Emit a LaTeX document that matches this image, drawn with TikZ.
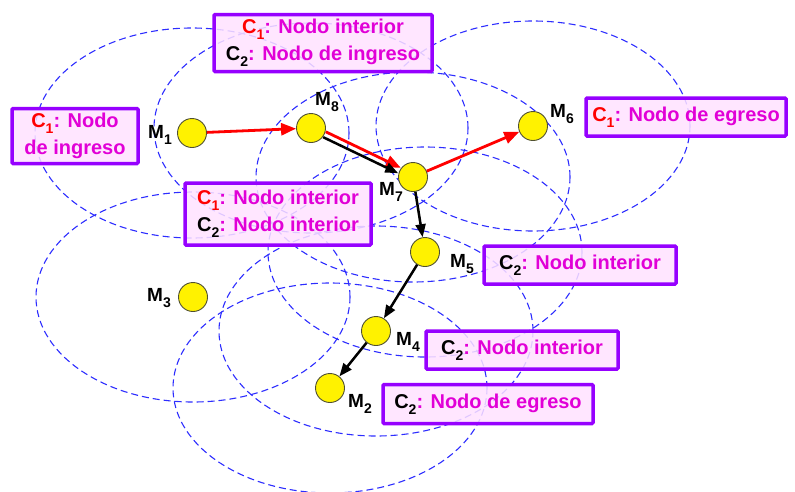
\documentclass[tikz,border=0pt]{standalone}
\usepackage{fontspec}
\setmainfont{Liberation Sans}
\usepackage{xcolor}
\usepackage{tikz}
\usetikzlibrary{positioning,arrows.meta,backgrounds}

\definecolor{rangeblue}{RGB}{45,45,255}
\definecolor{boxedge}{RGB}{150,0,255}
\definecolor{boxfill}{RGB}{255,226,255}
\definecolor{roletext}{RGB}{225,0,215}
\definecolor{routered}{RGB}{255,0,0}
\definecolor{moteedge}{RGB}{80,80,50}

\newcommand{\lowidx}[1]{\raisebox{-6pt}{\fontsize{14}{14}\selectfont #1}}
\newcommand{\cred}[1]{\textcolor{routered}{C\lowidx{#1}}}
\newcommand{\cblk}[1]{\textcolor{black}{C\lowidx{#1}}}

\begin{document}
\begin{tikzpicture}[
  x=1pt, y=-1pt,
  font=\bfseries\fontsize{20}{27}\selectfont,
  mote/.style={circle, draw=moteedge, line width=0.9pt, fill=yellow, minimum size=29pt, inner sep=0pt},
  mlab/.style={font=\bfseries\fontsize{19}{19}\selectfont, inner sep=0pt},
  role/.style={draw=boxedge, line width=3.5pt, fill=boxfill, fill opacity=0.85, text opacity=1, text=roletext, align=center, inner sep=0pt, rounded corners=1pt},
  rangezone/.style={rangeblue, line width=1.1pt, dash pattern=on 7pt off 4pt},
  redarr/.style={routered, line width=2.8pt, -{Triangle[length=15pt,width=12pt]}},
  blkarr/.style={black, line width=2.5pt, -{Triangle[length=13pt,width=10pt]}}
]
\useasboundingbox (0,0) rectangle (795,491);
\node[mote] (m1) at (192,133) {};
\node[mote] (m8) at (311,128) {};
\node[mote] (m7) at (413,177) {};
\node[mote] (m6) at (533,126) {};
\node[mote] (m5) at (425,252) {};
\node[mote] (m3) at (193,297) {};
\node[mote] (m4) at (376,331) {};
\node[mote] (m2) at (330,388) {};
\node[mlab] (t1) at (160,135) {M\lowidx{1}};
\node[mlab] (t8) at (327,102) {M\lowidx{8}};
\node[mlab] (t7) at (391,192) {M\lowidx{7}};
\node[mlab] (t6) at (562,114) {M\lowidx{6}};
\node[mlab] (t5) at (462,264) {M\lowidx{5}};
\node[mlab] (t3) at (159,298) {M\lowidx{3}};
\node[mlab] (t4) at (408,342) {M\lowidx{4}};
\node[mlab] (t2) at (360,404) {M\lowidx{2}};
\begin{scope}[on background layer]
\foreach \m in {m1,m2,m3,m4,m5,m6,m7,m8}
  \draw[rangezone] (\m.center) ellipse [x radius=157pt, y radius=105pt];
\end{scope}
\node[role, minimum width=126pt, minimum height=55pt] (b1) at (75,136) {\cred{1}: Nodo\\de ingreso};
\node[role, minimum width=218pt, minimum height=57pt] (b8) at (323,43) {\cred{1}: Nodo interior\\\cblk{2}: Nodo de ingreso};
\node[role, minimum width=186pt, minimum height=62pt] (b7) at (278,214) {\cred{1}: Nodo interior\\\cblk{2}: Nodo interior};
\node[role, minimum width=200pt, minimum height=38pt] (b6) at (686,117) {\cred{1}: Nodo de egreso};
\node[role, minimum width=192pt, minimum height=38pt] (b5) at (580,265) {\cblk{2}: Nodo interior};
\node[role, minimum width=192pt, minimum height=38pt] (b4) at (522,350) {\cblk{2}: Nodo interior};
\node[role, minimum width=210pt, minimum height=39pt] (b2) at (488,404) {\cblk{2}: Nodo de egreso};
\draw[redarr] (m1) -- (m8);
\draw[redarr, transform canvas={shift={(1.3,-2.7)}}] (m8) -- (m7);
\draw[blkarr, transform canvas={shift={(-1.3,2.7)}}] (m8) -- (m7);
\draw[redarr] (m7) -- (m6);
\draw[blkarr] (m7) -- (m5);
\draw[blkarr] (m5) -- (m4);
\draw[blkarr] (m4) -- (m2);
\end{tikzpicture}
\end{document}
